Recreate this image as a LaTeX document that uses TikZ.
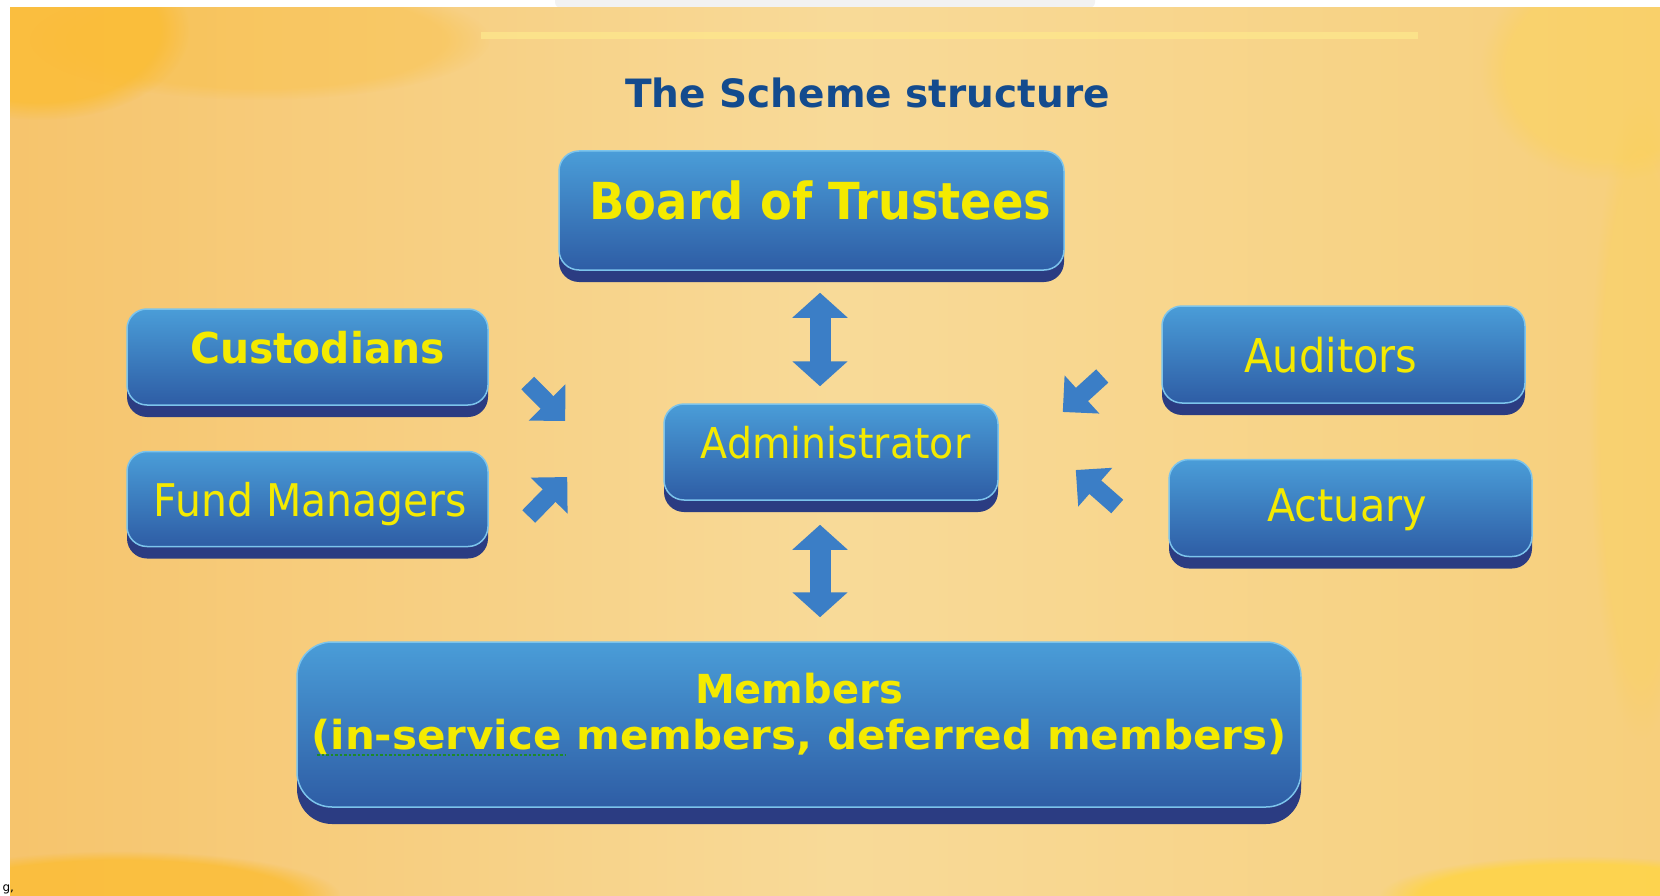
\documentclass[tikz,border=0pt]{standalone}
\usepackage{fontspec}
\usepackage{graphicx}
\setmainfont{DejaVu Sans}
\usetikzlibrary{positioning,arrows.meta,shadows,fadings}

\definecolor{bgleft}{HTML}{F6C46C}
\definecolor{bgmid}{HTML}{F8DA98}
\definecolor{bgright}{HTML}{F7CF7C}
\definecolor{blobgold}{HTML}{FBBD34}
\definecolor{blobsun}{HTML}{FED44A}
\definecolor{barglow}{HTML}{FDE68C}
\definecolor{tabgrey}{HTML}{F2F2F2}
\definecolor{tiertop}{HTML}{4A9DD8}
\definecolor{tierbot}{HTML}{2E5DA5}
\definecolor{tieredge}{HTML}{7CC4EC}
\definecolor{tierbase}{HTML}{2B3C82}
\definecolor{tiertext}{HTML}{F4EA00}
\definecolor{arrowblue}{HTML}{3B7EC6}
\definecolor{titleblue}{HTML}{134B8E}
\definecolor{spellgreen}{HTML}{1E8A2A}

\begin{document}
\begin{tikzpicture}[x=1pt, y=-1pt,
    tier/.style={rounded corners=20pt, draw=tieredge, line width=1.5pt,
        top color=tiertop, bottom color=tierbot, text=tiertext, inner sep=0pt,
        drop shadow={shadow xshift=0pt, shadow yshift=-12pt, fill=tierbase, opacity=1}},
    updown/.style={draw=arrowblue, line width=21pt,
        {Triangle[width=54pt,length=25pt]}-{Triangle[width=54pt,length=25pt]}},
    feed/.style={draw=arrowblue, line width=18pt, -{Triangle[width=50pt,length=26pt]}},
    spellmark/.style={draw=spellgreen, line width=2.5pt, dash pattern=on 2.5pt off 2pt}]
    \useasboundingbox (0,0) rectangle (1660,896);
    \fill[white] (0,0) rectangle (1660,896);
    \fill[tabgrey, rounded corners=6pt] (555,-10) rectangle (1095,8);
    \shade[left color=bgleft, right color=bgright, middle color=bgmid] (10,8) rectangle (1660,896);
    \begin{scope}
        \clip (10,8) rectangle (1660,896);
        \fill[blobgold, path fading=circle with fuzzy edge 20 percent, fill opacity=.8] (40,30) ellipse [x radius=150, y radius=90];
        \fill[blobgold, path fading=circle with fuzzy edge 20 percent, fill opacity=.35] (260,40) ellipse [x radius=230, y radius=60];
        \fill[blobsun, path fading=circle with fuzzy edge 20 percent, fill opacity=.35] (1610,70) ellipse [x radius=130, y radius=110];
        \fill[blobsun, path fading=circle with fuzzy edge 20 percent, fill opacity=.25] (1640,420) ellipse [x radius=50, y radius=320];
        \fill[blobgold, path fading=circle with fuzzy edge 20 percent, fill opacity=.8] (120,896) ellipse [x radius=220, y radius=45];
        \fill[blobsun, path fading=circle with fuzzy edge 20 percent, fill opacity=.9] (1580,896) ellipse [x radius=200, y radius=40];
        \fill[barglow, fill opacity=.8] (481,32) rectangle (1418,39);
    \end{scope}

    \node[anchor=base, text=titleblue, font=\bfseries\fontsize{39}{46}\selectfont] (title) at (867.5,108) {The Scheme structure};

    \node[tier, minimum width=505pt, minimum height=119pt, text height=38pt, text depth=19pt,
        font=\bfseries\fontsize{51}{60}\selectfont] (board) at (811.5,210.5)
        {\hspace*{18pt}\scalebox{0.91}[1]{Board of Trustees}};
    \node[tier, minimum width=361pt, minimum height=96pt, text height=31pt, text depth=19pt,
        font=\bfseries\fontsize{42.5}{50}\selectfont] (cust) at (307.5,357)
        {\hspace*{20pt}\scalebox{0.96}[1]{Custodians}};
    \node[tier, minimum width=361pt, minimum height=95pt, text height=35pt, text depth=0pt,
        font=\fontsize{45}{54}\selectfont, below=45pt of cust] (fund)
        {\hspace*{6pt}\scalebox{0.91}[1]{Fund Managers}};
    \node[tier, minimum width=334pt, minimum height=96pt, text height=31pt, text depth=19pt,
        font=\fontsize{42.5}{50}\selectfont] (admin) at (831,452)
        {\hspace*{9pt}\scalebox{0.93}[1]{Administrator}};
    \node[tier, minimum width=363pt, minimum height=97pt, text height=35pt, text depth=0pt,
        font=\fontsize{46.6}{55}\selectfont] (aud) at (1343.5,354.5)
        {\scalebox{0.89}[1]{Auditors}\hspace*{25pt}};
    \node[tier, minimum width=363pt, minimum height=97pt, text height=34pt, text depth=7pt,
        font=\fontsize{45}{54}\selectfont, below=55pt of aud, xshift=7pt] (act)
        {\scalebox{0.92}[1]{Actuary}\hspace*{7pt}};
    \node[tier, rounded corners=35pt, drop shadow={shadow xshift=0pt, shadow yshift=-17pt, fill=tierbase, opacity=1},
        minimum width=1004pt, minimum height=165pt, align=center, text height=74pt, text depth=25pt,
        font=\bfseries\fontsize{40}{46}\selectfont] (memb) at (799,724.5)
        {Members\\\scalebox{1.05}[1]{(in-service members, deferred members)}};
    \draw[spellmark] ([shift={(-482,30.5)}]memb.center) -- ([shift={(-234,30.5)}]memb.center);

    \draw[updown, shorten <=22pt, shorten >=17pt] ([xshift=8.5pt]board.south) -- ([xshift=-11pt]admin.north);
    \draw[updown, shorten <=24pt, shorten >=24pt] ([xshift=-11pt]admin.south) -- ([xshift=21pt]memb.north);
    \draw[feed] ([shift={(39,26)}]cust.east) -- ([shift={(-98,-31)}]admin.west);
    \draw[feed] ([shift={(40,17.5)}]fund.east) -- ([shift={(-96,25)}]admin.west);
    \draw[feed] ([shift={(-59,21.5)}]aud.west) -- ([shift={(64,-40)}]admin.east);
    \draw[feed] ([shift={(-51,-1.5)}]act.west) -- ([shift={(77,18)}]admin.east);

    \node[anchor=base west, font=\fontsize{12}{12}\selectfont] (pagemark) at (-1,891) {g,};
\end{tikzpicture}
\end{document}
